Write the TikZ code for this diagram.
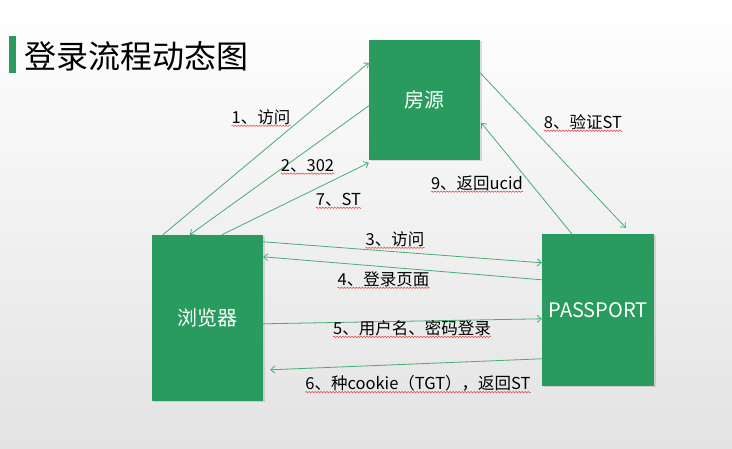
\documentclass[tikz,border=0pt]{standalone}
\usepackage{fontspec}
\setmainfont{Noto Sans CJK SC}
\usetikzlibrary{arrows.meta,shadows,decorations.pathmorphing}
\definecolor{boxgreen}{RGB}{41,155,94}
\definecolor{linegreen}{RGB}{72,172,116}
\definecolor{squigred}{RGB}{232,64,64}
\begin{document}
\begin{tikzpicture}[x=1pt,y=-1pt,
 box/.style={draw=none, fill=boxgreen, text=white, inner sep=0pt, font=\fontsize{20}{24}\selectfont,
   drop shadow={opacity=0.25,shadow xshift=1.5pt,shadow yshift=-1.5pt}},
 conn/.style={draw=linegreen, line width=0.8pt, -{Straight Barb[length=4pt,width=7pt]}},
 lbl/.style={inner sep=0pt, font=\fontsize{16.5}{20}\selectfont},
 squig/.style={draw=squigred, line width=0.5pt, decorate, decoration={snake, segment length=3pt, amplitude=0.7pt}}]
\useasboundingbox (0,0) rectangle (732,449);
\shade[top color=white, bottom color=gray!22] (0,0) rectangle (732,449);

% title
\fill[boxgreen] (9,36) rectangle (16,73);
\node[anchor=west, inner sep=0pt, font=\fontsize{32}{36}\selectfont] (title) at (24,56) {登录流程动态图};

% boxes
\node[box, minimum width=111pt, minimum height=120pt] (fy) at (424.5,100) {房源};
\node[box, minimum width=111pt, minimum height=166pt] (br) at (207.5,318) {浏览器};
\node[box, minimum width=112pt, minimum height=152pt] (pp) at (598,310) {PASSPORT};

% connectors
\draw[conn] ([shift={(11,0)}]br.north west) -- ([shift={(0,23)}]fy.north west);
\draw[conn] ([shift={(0,66)}]fy.north west) -- ([shift={(38,0)}]br.north west);
\draw[conn] ([shift={(70,0)}]br.north west) -- ([shift={(0,123)}]fy.north west);
\draw[conn] ([shift={(0,33)}]fy.north east) -- ([shift={(84,-6)}]pp.north west);
\draw[conn] ([shift={(30,0)}]pp.north west) -- ([shift={(1,83)}]fy.north east);
\draw[conn] ([shift={(0,7)}]br.north east) -- ([shift={(0,29)}]pp.north west);
\draw[conn] ([shift={(0,46)}]pp.north west) -- ([shift={(0,22)}]br.north east);
\draw[conn] ([shift={(0,89)}]br.north east) -- ([shift={(0,85)}]pp.north west);
\draw[conn] ([shift={(0,125)}]pp.north west) -- ([shift={(7,135)}]br.north east);

% labels
\node[lbl] (l1) at (261,117) {1、访问};
\node[lbl] (l2) at (307.5,166) {2、302};
\node[lbl] (l7) at (338.5,200) {7、ST};
\node[lbl] (l3) at (395,239) {3、访问};
\node[lbl] (l4) at (383.5,279) {4、登录页面};
\node[lbl] (l5) at (412,328) {5、用户名、密码登录};
\node[lbl] (l6) at (418,383) {6、种cookie（TGT），返回ST};
\node[lbl] (l8) at (583,122) {8、验证ST};
\node[lbl] (l9) at (477,183) {9、返回ucid};

\foreach \n in {l1,l2,l7,l3,l4,l5,l6,l8,l9}
  \draw[squig] ([yshift=-1pt]\n.south west) -- ([yshift=-1pt]\n.south east);
\end{tikzpicture}
\end{document}
